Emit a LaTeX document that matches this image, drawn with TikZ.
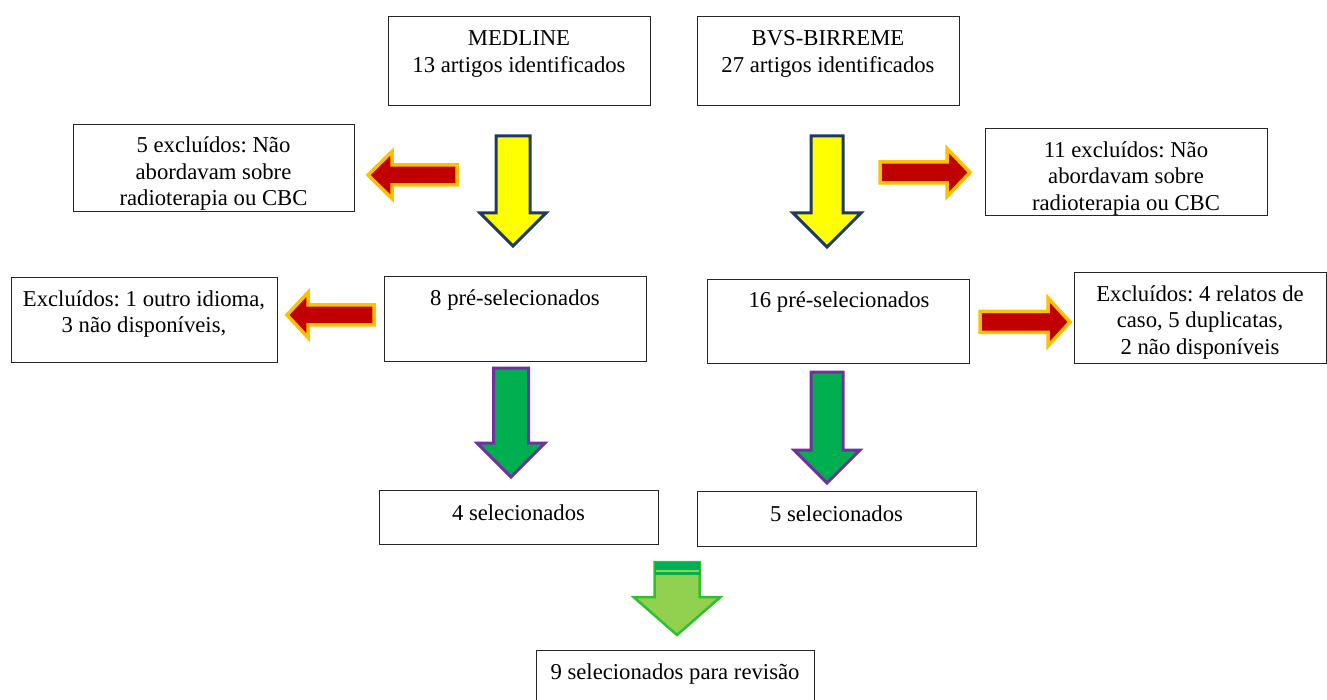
\documentclass[tikz,border=0pt]{standalone}
\usepackage{fontspec}
\setmainfont{Liberation Serif}
\frenchspacing
\definecolor{navy}{HTML}{1F3864}
\definecolor{ylw}{HTML}{FFFF00}
\definecolor{darkred}{HTML}{C00000}
\definecolor{gold}{HTML}{FFC000}
\definecolor{grn}{HTML}{00B050}
\definecolor{purp}{HTML}{7030A0}
\definecolor{lgrn}{HTML}{92D050}
\definecolor{lgrnline}{HTML}{2EC12E}
\newcommand\arrdown[7]{\draw[#1] (#2-#4,#3) -- (#2+#4,#3) -- (#2+#4,#5) -- (#2+#6,#5) -- (#2,#7) -- (#2-#6,#5) -- (#2-#4,#5) -- cycle;}
\newcommand\arrhor[7]{\draw[#1] (#3,#2-#4) -- (#5,#2-#4) -- (#5,#2-#6) -- (#7,#2) -- (#5,#2+#6) -- (#5,#2+#4) -- (#3,#2+#4) -- cycle;}
\begin{document}
\begin{tikzpicture}[x=1pt,y=-1pt,
  box/.style={draw=black!85, line width=1pt, inner sep=0pt},
  txt/.style={align=center, inner sep=0pt, font=\fontsize{22.7}{26.5}\selectfont},
  yarrow/.style={fill=ylw, draw=navy, line width=3pt, line join=miter},
  rarrow/.style={fill=darkred, draw=gold, line width=3.5pt, line join=miter},
  garrow/.style={fill=grn, draw=purp, line width=3pt, line join=miter},
  larrow/.style={fill=lgrn, draw=lgrnline, line width=2.5pt, line join=miter}]
\useasboundingbox (0,0) rectangle (1327,700);
% boxes
\node[box, minimum width=262pt, minimum height=89pt] (medbox) at (519,61.5) {};
\node[box, minimum width=262pt, minimum height=89pt] (bvsbox) at (828,61.5) {};
\node[box, minimum width=281pt, minimum height=87pt] (exl1box) at (213.5,168.5) {};
\node[box, minimum width=282pt, minimum height=87pt] (exr1box) at (1126,172.5) {};
\node[box, minimum width=266pt, minimum height=84pt] (exl2box) at (144,320) {};
\node[box, minimum width=262pt, minimum height=84pt] (pre8box) at (515,319) {};
\node[box, minimum width=262pt, minimum height=83pt] (pre16box) at (838,321.5) {};
\node[box, minimum width=252pt, minimum height=90pt] (exr2box) at (1200,318) {};
\node[box, minimum width=279pt, minimum height=54pt] (sel4box) at (518.5,517) {};
\node[box, minimum width=279pt, minimum height=55pt] (sel5box) at (836.5,518.5) {};
\node[box, minimum width=278pt, minimum height=70pt] (revbox) at (675,685) {};
% texts
\node[txt] (medtxt) at (519,54) {MEDLINE\\13 artigos identificados};
\node[txt] (bvstxt) at (828,54) {BVS-BIRREME\\27 artigos identificados};
\node[txt] (exl1txt) at (213.5,174) {5 excluídos: Não\\abordavam sobre\\radioterapia ou CBC};
\node[txt] (exr1txt) at (1126,178.5) {11 excluídos: Não\\abordavam sobre\\radioterapia ou CBC};
\node[txt] (exl2txt) at (144,314) {Excluídos: 1 outro idioma,\\3 não disponíveis,};
\node[txt] (pre8txt) at (515,300) {8 pré-selecionados};
\node[txt] (pre16txt) at (839,302) {16 pré-selecionados};
\node[txt] (exr2txt) at (1200,322.5) {Excluídos: 4 relatos de\\caso, 5 duplicatas,\\2 não disponíveis};
\node[txt] (sel4txt) at (518.5,513) {4 selecionados};
\node[txt] (sel5txt) at (836.5,514) {5 selecionados};
\node[txt] (revtxt) at (675,674) {9 selecionados para revisão};
% block arrows
\arrdown{yarrow}{513}{136}{17}{213}{33}{246}
\arrdown{yarrow}{827}{136}{16}{213}{34}{247}
\arrhor{rarrow}{175}{457}{10}{392}{23.5}{368}
\arrhor{rarrow}{172.5}{880}{10.5}{947}{24}{970}
\arrhor{rarrow}{315}{374}{10}{308}{22.5}{287}
\arrhor{rarrow}{322}{980}{10.5}{1048}{24}{1070}
\arrdown{garrow}{511}{368}{17.5}{443}{34}{477}
\arrdown{garrow}{827}{372}{16}{450}{33}{483}
\arrdown{larrow}{677}{562}{22.5}{597}{43.5}{635}
\fill[grn] (655,562) rectangle (700,575);
\draw[lgrn, line width=1.2pt] (656,571) -- (699,571);
\end{tikzpicture}
\end{document}
